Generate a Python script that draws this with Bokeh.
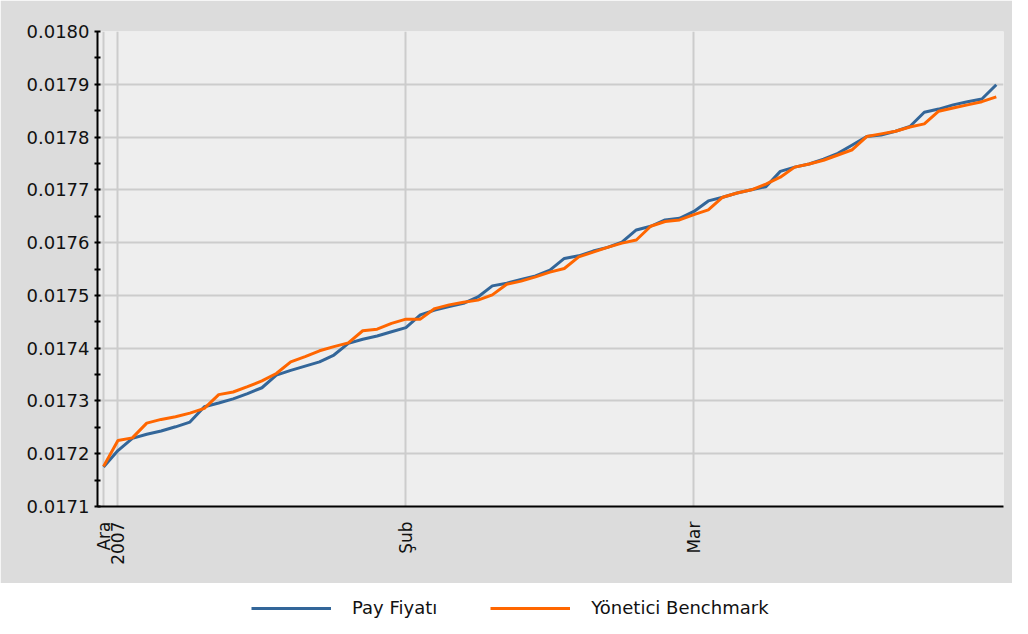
import math
from bokeh.plotting import figure
from bokeh.models import FixedTicker, Range1d, Legend, LegendItem, NumeralTickFormatter
from bokeh.layouts import column
from bokeh.embed import file_html
from bokeh.resources import INLINE

# trading-day index (29 Dec 2006 .. 30 Mar 2007)
days = list(range(63))

pay_fiyati = [
    0.017175, 0.017206, 0.017229, 0.017237, 0.017243, 0.017251, 0.017260, 0.017289,
    0.017296, 0.017304, 0.017314, 0.017325, 0.017349, 0.017358, 0.017366, 0.017374,
    0.017387, 0.017409, 0.017417, 0.017423, 0.017431, 0.017439, 0.017463, 0.017472,
    0.017479, 0.017485, 0.017497, 0.017518, 0.017523, 0.017530, 0.017537, 0.017548,
    0.017570, 0.017575, 0.017584, 0.017591, 0.017601, 0.017624, 0.017631, 0.017643,
    0.017646, 0.017659, 0.017679, 0.017686, 0.017694, 0.017700, 0.017706, 0.017735,
    0.017743, 0.017749, 0.017758, 0.017769, 0.017785, 0.017801, 0.017804, 0.017811,
    0.017820, 0.017847, 0.017853, 0.017861, 0.017867, 0.017872, 0.017899,
]

benchmark = [
    0.017176, 0.017225, 0.017230, 0.017258, 0.017265, 0.017270, 0.017277, 0.017286,
    0.017312, 0.017317, 0.017327, 0.017338, 0.017352, 0.017374, 0.017384, 0.017395,
    0.017403, 0.017410, 0.017433, 0.017436, 0.017447, 0.017455, 0.017455, 0.017475,
    0.017482, 0.017487, 0.017491, 0.017501, 0.017521, 0.017527, 0.017535, 0.017544,
    0.017551, 0.017573, 0.017582, 0.017591, 0.017599, 0.017605, 0.017631, 0.017640,
    0.017643, 0.017653, 0.017662, 0.017686, 0.017694, 0.017700, 0.017711, 0.017724,
    0.017743, 0.017749, 0.017756, 0.017766, 0.017776, 0.017801, 0.017806, 0.017811,
    0.017819, 0.017825, 0.017849, 0.017855, 0.017861, 0.017867, 0.017876,
]

x_ticks = [0, 1, 21, 41]
x_labels = ["Ara", "2007", "Şub", "Mar"]
y_ticks = [0.0171, 0.0172, 0.0173, 0.0174, 0.0175, 0.0176, 0.0177, 0.0178, 0.0179, 0.0180]

series_names = ["Pay Fiyatı", "Yönetici Benchmark"]
series_colors = ["#336699", "#ff6600"]

FONT = "DejaVu Sans"

p = figure(width=1012, height=583,
           x_range=Range1d(-0.42, 62.5), y_range=Range1d(0.0171, 0.0180),
           output_backend="svg", toolbar_location=None,
           min_border_left=97, min_border_top=31, min_border_right=9, min_border_bottom=77,
           background_fill_color="#eeeeee", border_fill_color="#dcdcdc",
           outline_line_color=None)

minor = [round(t + 0.00005, 6) for t in y_ticks[:-1]]
p.yaxis.ticker = FixedTicker(ticks=y_ticks, minor_ticks=minor)
p.yaxis.formatter = NumeralTickFormatter(format="0.0000")
p.xaxis.ticker = FixedTicker(ticks=x_ticks)
p.xaxis.major_label_overrides = {t: l for t, l in zip(x_ticks, x_labels)}
p.xaxis.major_label_orientation = math.pi / 2

for ax in (p.xaxis, p.yaxis):
    ax.axis_line_color = "black"
    ax.axis_line_width = 2
    ax.major_tick_line_color = "black"
    ax.minor_tick_line_color = "black"
    ax.major_tick_line_width = 2
    ax.minor_tick_line_width = 2
    ax.major_label_text_font = FONT
    ax.major_label_text_color = "#111111"

p.yaxis.major_label_text_font_size = "18px"
p.xaxis.major_label_text_font_size = "17px"

p.yaxis.major_tick_in = 3
p.yaxis.major_tick_out = 3
p.yaxis.minor_tick_in = 3
p.yaxis.minor_tick_out = 3
p.yaxis.major_label_standoff = 5

p.xaxis.major_tick_in = 0
p.xaxis.major_tick_out = 0
p.xaxis.minor_tick_in = 0
p.xaxis.minor_tick_out = 0
p.xaxis.major_label_standoff = 15

p.grid.grid_line_color = "#cccccc"
p.grid.grid_line_width = 2

p.line(days, pay_fiyati, line_color=series_colors[0], line_width=3)
p.line(days, benchmark, line_color=series_colors[1], line_width=3)

# legend strip (white, below the gray chart block)
lg = figure(width=1012, height=35, x_range=Range1d(1000, 1001), y_range=Range1d(0, 1),
            output_backend="svg", toolbar_location=None, min_border=0,
            x_axis_type=None, y_axis_type=None,
            outline_line_color=None, background_fill_color="white", border_fill_color="white")
lg.grid.visible = False
r1 = lg.line(days, pay_fiyati, line_color=series_colors[0], line_width=3)
r2 = lg.line(days, benchmark, line_color=series_colors[1], line_width=3)
legend = Legend(items=[LegendItem(label=series_names[0], renderers=[r1]),
                       LegendItem(label=series_names[1], renderers=[r2])],
                orientation="horizontal", location=(154, 0),
                glyph_width=80, glyph_height=20, label_standoff=21, spacing=53,
                padding=0, margin=0, border_line_color=None, background_fill_alpha=0,
                label_text_font=FONT, label_text_font_size="18px", label_text_color="#111111")
lg.add_layout(legend)

layout = column(p, lg, spacing=0)

open("out.html", "w").write(file_html(layout, INLINE))
